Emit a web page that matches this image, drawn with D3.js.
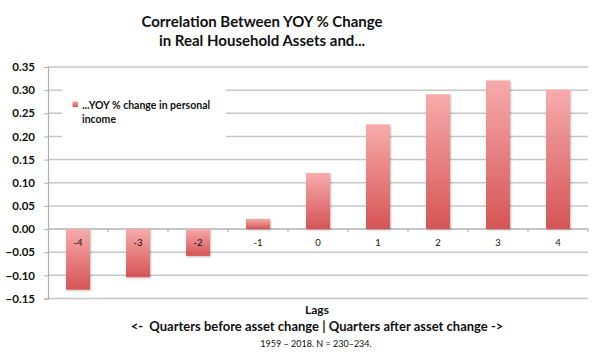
<!DOCTYPE html>
<html><head><meta charset="utf-8">
<script src="https://cdn.jsdelivr.net/npm/d3@7"></script>
<style>body{margin:0;background:#fff}svg{display:block}</style>
</head><body>
<svg id="c" width="597" height="363"></svg>
<script>
const lags = ["-4","-3","-2","-1","0","1","2","3","4"];
const values = [-0.131,-0.104,-0.058,0.022,0.121,0.226,0.291,0.321,0.301];
const yTicks = [-0.15,-0.10,-0.05,0.00,0.05,0.10,0.15,0.20,0.25,0.30,0.35];
const titleLines = ["Correlation Between YOY % Change","in Real Household Assets and..."];
const seriesName = ["...YOY % change in personal","income"];
const xTitle = ["Lags","<-\u00a0\u00a0Quarters before asset change | Quarters after asset change ->"];
const note = "1959 \u2013 2018. N = 230\u2013234.";

const svg = d3.select("#c");
const font = "Lato, 'Open Sans', sans-serif";
const L=48, R=588, T=67, B=298.5;
const x = d3.scaleBand().domain(lags).range([L,R]).paddingInner(0.6).paddingOuter(0.3);
const y = d3.scaleLinear().domain([-0.15,0.35]).range([B,T]);

const defs = svg.append("defs");
const g1 = defs.append("linearGradient").attr("id","bg").attr("x1",0).attr("y1",0).attr("x2",0).attr("y2",1);
g1.append("stop").attr("offset","0%").attr("stop-color","#f7abab");
g1.append("stop").attr("offset","100%").attr("stop-color","#d65454");
const f = defs.append("filter").attr("id","sh").attr("x","-20%").attr("y","-20%").attr("width","150%").attr("height","150%");
f.append("feDropShadow").attr("dx",1).attr("dy",1).attr("stdDeviation",0.8).attr("flood-color","#000").attr("flood-opacity",0.25);

// gridlines
svg.append("g").selectAll("line").data(yTicks).join("line")
  .attr("x1",L).attr("x2",R).attr("y1",d=>y(d)).attr("y2",d=>y(d))
  .attr("stroke","#c8c8c8").attr("stroke-width",1.5);

// y axis
const ya = svg.append("g").attr("transform",`translate(${L},0)`)
  .call(d3.axisLeft(y).tickValues(yTicks).tickFormat(d3.format(".2f")).tickSize(4).tickPadding(9));
ya.select(".domain").attr("stroke","#b0b0b0").attr("stroke-width",1.2);
ya.selectAll(".tick line").attr("stroke","#b0b0b0");
ya.selectAll("text").attr("font-family",font).attr("font-weight","bold").attr("font-size",11.5).attr("fill","#111");

// zero axis with ticks between categories
svg.append("line").attr("x1",L).attr("x2",R).attr("y1",y(0)).attr("y2",y(0)).attr("stroke","#c0c0c0").attr("stroke-width",1.5);
const step = x.step();
svg.append("g").selectAll("line").data(lags).join("line")
  .attr("x1",(d,i)=>L+(i+1)*step).attr("x2",(d,i)=>L+(i+1)*step)
  .attr("y1",y(0)).attr("y2",y(0)+3).attr("stroke","#b0b0b0").attr("stroke-width",1.2);

// legend box
svg.append("rect").attr("x",62).attr("y",87).attr("width",164).attr("height",51).attr("fill","#fff");
svg.append("rect").attr("x",72.5).attr("y",101.5).attr("width",5.5).attr("height",5.5).attr("fill","url(#bg)");
svg.append("text").attr("font-family",font).attr("font-weight","bold").attr("font-size",10.5).attr("fill","#111")
  .selectAll("tspan").data(seriesName).join("tspan").attr("x",82).attr("y",(d,i)=>109+i*14).text(d=>d);

// bars
svg.append("g").selectAll("rect").data(values).join("rect")
  .attr("x",(d,i)=>x(lags[i])).attr("width",x.bandwidth())
  .attr("y",d=>y(Math.max(0,d))).attr("height",d=>Math.abs(y(d)-y(0)))
  .attr("fill","url(#bg)").attr("filter","url(#sh)");

// category labels
svg.append("g").selectAll("text").data(lags).join("text")
  .attr("x",d=>x(d)+x.bandwidth()/2).attr("y",y(0)+17)
  .attr("text-anchor","middle").attr("font-family",font).attr("font-size",9.5).attr("fill","#111").text(d=>d);

// title
svg.append("text").attr("font-family",font).attr("font-weight","bold").attr("font-size",15).attr("fill","#111").attr("text-anchor","middle")
  .selectAll("tspan").data(titleLines).join("tspan").attr("x",262).attr("y",(d,i)=>27+i*19).text(d=>d);

// x title
svg.append("text").attr("font-family",font).attr("font-weight","bold").attr("fill","#111").attr("text-anchor","middle")
  .selectAll("tspan").data(xTitle).join("tspan").attr("x",317).attr("y",(d,i)=>314+i*17)
  .attr("font-size",(d,i)=>i?13:12).text(d=>d);

svg.append("text").attr("x",316).attr("y",347).attr("text-anchor","middle").attr("font-family",font).attr("font-size",9).attr("fill","#111").text(note);
</script>
</body></html>
